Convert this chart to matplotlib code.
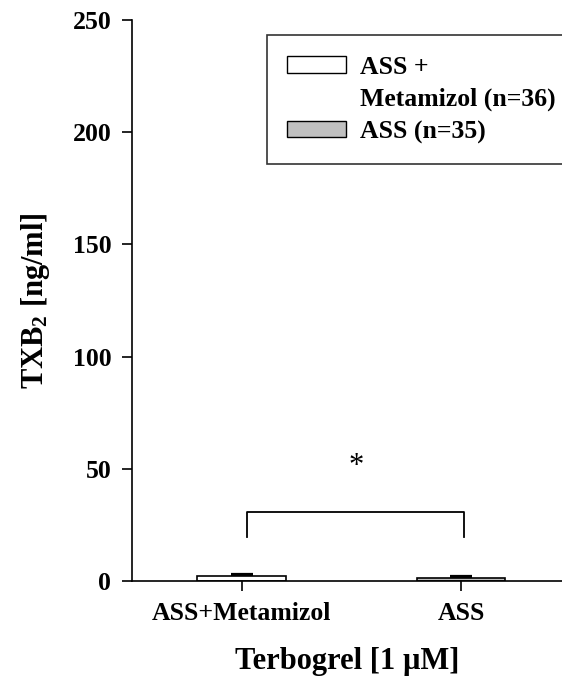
import numpy as np
import matplotlib
matplotlib.use("Agg")
import matplotlib.pyplot as plt
from matplotlib.patches import Patch

plt.rcParams['font.family'] = ['Liberation Serif', 'DejaVu Serif']
plt.rcParams['font.weight'] = 'bold'
plt.rcParams['axes.labelweight'] = 'bold'
plt.rcParams['mathtext.default'] = 'regular'

# -----------------------------
# Data
# -----------------------------
groups = ["ASS+Metamizol", "ASS"]
means = [2.1, 1.5]
sems = [0.9, 0.7]
colors = ["white", "#c0c0c0"]
legend_labels = ["ASS +", "Metamizol (n=36)", "ASS (n=35)"]
bracket_y = 30.7
bracket_drop = 11.0
star_y = 51

# -----------------------------
# Figure
# -----------------------------
fig = plt.figure(figsize=(5.62, 6.9), dpi=100)
ax = fig.add_axes([0.2349, 0.158, 0.7651, 0.813])

x = np.arange(len(groups))
ax.bar(x, means, width=0.405, color=colors, edgecolor='black', linewidth=1.2, zorder=2)
ax.errorbar(x, means, yerr=[np.zeros(len(sems)), sems], fmt='none',
            ecolor='black', elinewidth=1.0, capsize=8, capthick=1.6, zorder=1)

ax.set_xlim(-0.499, 1.46)
ax.set_ylim(0, 250)
ax.set_yticks([0, 50, 100, 150, 200, 250])
ax.set_xticks(x)
ax.set_xticklabels(groups)

for s in ['top', 'right']:
    ax.spines[s].set_visible(False)
for s in ['left', 'bottom']:
    ax.spines[s].set_linewidth(1.2)
ax.tick_params(axis='both', direction='out', length=7, width=1.2, labelsize=18.5, pad=8)

ax.set_ylabel("TXB$_2$ [ng/ml]", fontsize=22, labelpad=15)
ax.set_xlabel("Terbogrel [1 \u00b5M]", fontsize=22, labelpad=16)

# significance bracket
bx0, bx1 = 0.025, 1.014
ax.plot([bx0, bx0, bx1, bx1],
        [bracket_y - bracket_drop, bracket_y, bracket_y, bracket_y - bracket_drop],
        color='black', linewidth=1.3, clip_on=False)
ax.text(0.52, star_y, "*", ha='center', va='center', fontsize=22, fontweight='normal')

# legend
handles = [Patch(facecolor='white', edgecolor='black', linewidth=1.0),
           Patch(facecolor='none', edgecolor='none'),
           Patch(facecolor='#c0c0c0', edgecolor='black', linewidth=1.0)]
leg = ax.legend(handles, legend_labels, loc='upper left',
                bbox_to_anchor=(0.313, 0.973), borderaxespad=0,
                fontsize=18.5, frameon=True, fancybox=False, edgecolor='black',
                handlelength=2.3, handleheight=0.62, handletextpad=0.55,
                labelspacing=0.35, borderpad=0.8)
leg.get_frame().set_linewidth(1.2)

fig.savefig("out.png", dpi=100)
